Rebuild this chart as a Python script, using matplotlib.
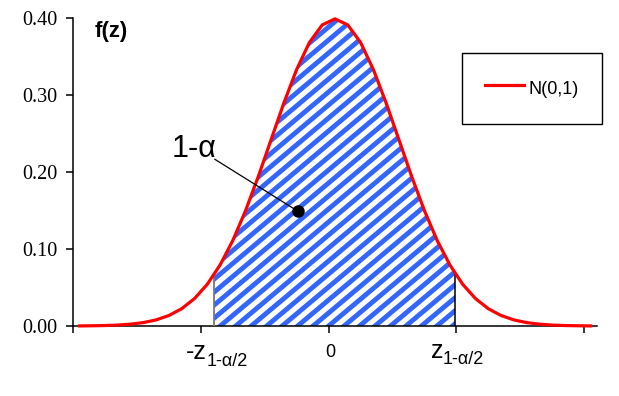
import numpy as np
import matplotlib
matplotlib.use('Agg')
import matplotlib.pyplot as plt
from matplotlib.collections import LineCollection
from matplotlib.patches import Polygon
from matplotlib.transforms import IdentityTransform

# dados: N(0,1) em z = -4 ... 4, passo 0.2
z = np.linspace(-4.0, 4.0, 41)
fz = [0.0001, 0.0003, 0.0006, 0.0012, 0.0024, 0.0044, 0.0079, 0.0136, 0.0224, 0.0355,
      0.0540, 0.0790, 0.1109, 0.1497, 0.1942, 0.2420, 0.2897, 0.3332, 0.3683, 0.3910,
      0.3989,
      0.3910, 0.3683, 0.3332, 0.2897, 0.2420, 0.1942, 0.1497, 0.1109, 0.0790, 0.0540,
      0.0355, 0.0224, 0.0136, 0.0079, 0.0044, 0.0024, 0.0012, 0.0006, 0.0003, 0.0001]
z_lo, z_hi = -1.89, 1.88          # limites da area sombreada
ponto = (-0.58, 0.149)            # ponto do rotulo 1-alpha
yticks = [0.0, 0.1, 0.2, 0.3, 0.4]
ytick_labels = ['0.00', '0.10', '0.20', '0.30', '0.40']

W, H = 619, 396
fig = plt.figure(figsize=(W / 100, H / 100), dpi=100)
ax = fig.add_axes([73 / W, 1 - 326 / H, (597 - 73) / W, (326 - 18) / H])

ax.set_xlim(-4.1, 4.1)
ax.set_ylim(0, 0.40)
for s in ['top', 'right']:
    ax.spines[s].set_visible(False)
for s in ['left', 'bottom']:
    ax.spines[s].set_linewidth(1.1)

ax.set_xticks([-4.1, -2.1, -0.1, 1.9, 3.9])
ax.set_xticklabels([])
ax.set_yticks(yticks)
ax.set_yticklabels(ytick_labels, family='Liberation Serif', fontsize=14.5)
ax.tick_params(axis='both', direction='out', length=5, width=1.1, pad=6)

# area sombreada com listras diagonais
xs = np.linspace(z_lo, z_hi, 200)
ys = np.interp(xs, z, fz)
verts = np.column_stack([np.r_[z_lo, xs, z_hi], np.r_[0, ys, 0]])
poly = Polygon(verts, closed=True, facecolor='white', edgecolor='none', zorder=1)
ax.add_patch(poly)

seg = []
for c in np.arange(-700, 500, 13.0):
    seg.append([(0, c), (W, c + 0.84 * W)])
lc = LineCollection(seg, transform=IdentityTransform(), linewidths=3.5,
                    colors='#3366ff', zorder=2)
ax.add_collection(lc, autolim=False)
lc.set_clip_path(poly)

ax.vlines(z_lo, 0, np.interp(z_lo, z, fz), color='#777777', lw=1.3, zorder=3)
ax.vlines(z_hi, 0, np.interp(z_hi, z, fz), color='black', lw=1.1, zorder=3)

ax.plot(z, fz, color='red', lw=2.3, zorder=4, label='N(0,1)', clip_on=False)

# rotulo 1-alpha
ax.plot([-1.88, ponto[0]], [0.2165, ponto[1]], color='black', lw=0.9, zorder=5)
ax.plot(*ponto, 'o', color='black', ms=8, zorder=6)
ax.text(-2.2, 0.22, '1-\u03b1', family='Liberation Sans', fontsize=22,
        ha='center', va='baseline')

fig.text(95 / W, 1 - 37 / H, 'f(z)', family='Liberation Sans', fontsize=16,
         fontweight='bold')

# rotulos do eixo x
sans = 'Liberation Sans'
fig.text(207 / W, 1 - 359 / H, '-z', family=sans, fontsize=18, ha='right', va='baseline')
fig.text(207 / W, 1 - 366 / H, '1-\u03b1/2', family=sans, fontsize=13, va='baseline')
fig.text(330 / W, 1 - 357 / H, '0', family=sans, fontsize=13, ha='center', va='baseline')
fig.text(443 / W, 1 - 358 / H, 'z', family=sans, fontsize=18, ha='right', va='baseline')
fig.text(443 / W, 1 - 364 / H, '1-\u03b1/2', family=sans, fontsize=13, va='baseline')

leg = ax.legend(loc='upper left', bbox_to_anchor=(462 / W, 1 - 53 / H),
                bbox_transform=fig.transFigure, borderaxespad=0,
                prop={'family': sans, 'size': 13}, fancybox=False, framealpha=1,
                edgecolor='black', borderpad=1.28, handleheight=1.75,
                handlelength=2.15, handletextpad=0.25)
leg.get_frame().set_linewidth(1.0)

fig.savefig('out.png', dpi=100)
